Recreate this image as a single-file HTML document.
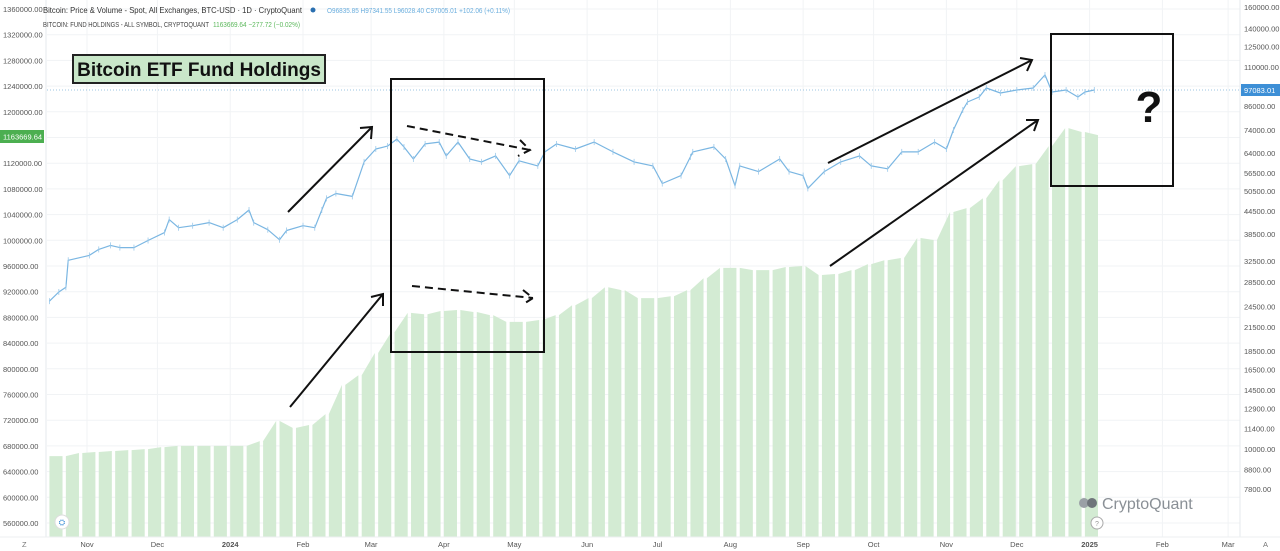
<!DOCTYPE html>
<html><head><meta charset="utf-8"><style>
html,body{margin:0;padding:0;background:#fff;}
svg{display:block;font-family:"Liberation Sans",sans-serif;}
</style></head><body>
<svg id="chart" width="1280" height="551" viewBox="0 0 1280 551">
<rect x="0" y="0" width="1280" height="551" fill="#fff"/>
<g id="grid"></g>
<g id="holdings"></g>
<line x1="47" y1="90" x2="1240" y2="90" stroke="#7fb3d8" stroke-width="0.8" stroke-dasharray="1,2"/>
<g id="price"></g>
<line x1="46" y1="0" x2="46" y2="537" stroke="#e6e9ec"/>
<line x1="1240" y1="0" x2="1240" y2="537" stroke="#e6e9ec"/>
<g id="leftAxis"></g>
<g id="rightAxis"></g>
<g id="xAxis"></g>
<g>
<text x="43" y="13" font-size="8.5" fill="#333" textLength="259" lengthAdjust="spacingAndGlyphs">Bitcoin: Price &amp; Volume - Spot, All Exchanges, BTC-USD · 1D · CryptoQuant</text>
<circle cx="313" cy="10" r="2.5" fill="#2a6fb0"/>
<text x="327" y="13" font-size="7.5" fill="#6aaede" textLength="183" lengthAdjust="spacingAndGlyphs">O96835.85 H97341.55 L96028.40 C97005.01 +102.06 (+0.11%)</text>
<text x="43" y="27" font-size="7" fill="#444" textLength="166" lengthAdjust="spacingAndGlyphs">BITCOIN: FUND HOLDINGS - ALL SYMBOL, CRYPTOQUANT</text>
<text x="213" y="27" font-size="7" fill="#5cb85c" textLength="87" lengthAdjust="spacingAndGlyphs">1163669.64 −277.72 (−0.02%)</text>
</g>
<g>
<rect x="73" y="55" width="252" height="28" fill="#c9e7c9" stroke="#222" stroke-width="2"/>
<text x="199" y="76" font-size="19" font-weight="bold" fill="#111" text-anchor="middle">Bitcoin ETF Fund Holdings</text>
<rect x="391" y="79" width="153" height="273" fill="none" stroke="#111" stroke-width="2"/>
<rect x="1051" y="34" width="122" height="152" fill="none" stroke="#111" stroke-width="2"/>
<text x="1149" y="122" font-size="44" font-weight="bold" fill="#111" text-anchor="middle">?</text>
<g stroke="#111" stroke-width="2" fill="none">
<path d="M288 212 L372 127 M360 128 L372 127 L371 139"/>
<path d="M290 407 L383 294 M371 297 L383 294 L383 306"/>
<path d="M407 126 L530 150 M520 140 L530 150 L518 156" stroke-dasharray="8,5"/>
<path d="M412 286 L533 298 M523 290 L533 298 L522 305" stroke-dasharray="8,5"/>
<path d="M828 163 L1032 60 M1020 58 L1032 60 L1027 71"/>
<path d="M830 266 L1038 120 M1026 120 L1038 120 L1034 131"/>
</g>
</g>
<rect x="0" y="130" width="44" height="13" fill="#4caf50"/>
<text x="3" y="139.5" font-size="7.5" fill="#fff">1163669.64</text>
<rect x="1241" y="84" width="39" height="12" fill="#3d8fd6"/>
<text x="1244" y="93" font-size="7.5" fill="#fff">97083.01</text>
<g>
<circle cx="1084" cy="503" r="5" fill="#9aa0a6"/><circle cx="1092" cy="503" r="5" fill="#6f757b"/>
<text x="1102" y="509" font-size="16" fill="#8a9096">CryptoQuant</text>
</g>
<circle cx="1097" cy="523" r="6" fill="#fff" stroke="#aaa"/>
<text x="1097" y="526" font-size="7" fill="#999" text-anchor="middle">?</text>
<circle cx="62" cy="522" r="7" fill="#fff" stroke="#ddd"/>
<text x="62" y="525" font-size="8" fill="#3d8fd6" text-anchor="middle">⛭</text>
</svg>
<script>
const holdWeeks = ["2023-10-16","2023-10-23","2023-10-30","2023-11-06","2023-11-13","2023-11-20","2023-11-27","2023-12-04","2023-12-11","2023-12-18","2023-12-25","2024-01-01","2024-01-08","2024-01-15","2024-01-22","2024-01-29","2024-02-05","2024-02-12","2024-02-19","2024-02-26","2024-03-04","2024-03-11","2024-03-18","2024-03-25","2024-04-01","2024-04-08","2024-04-15","2024-04-22","2024-04-29","2024-05-06","2024-05-13","2024-05-20","2024-05-27","2024-06-03","2024-06-10","2024-06-17","2024-06-24","2024-07-01","2024-07-08","2024-07-15","2024-07-22","2024-07-29","2024-08-05","2024-08-12","2024-08-19","2024-08-26","2024-09-02","2024-09-09","2024-09-16","2024-09-23","2024-09-30","2024-10-07","2024-10-14","2024-10-21","2024-10-28","2024-11-04","2024-11-11","2024-11-18","2024-11-25","2024-12-02","2024-12-09","2024-12-16","2024-12-23","2024-12-30"];
const holdValues = [664000,669000,670500,672000,673500,675000,678000,680000,680000,680000,680000,680000,687500,719000,708000,712500,729500,775000,790000,824500,857000,887000,885000,890000,891500,888500,883500,873000,873000,876000,883500,899000,910000,927000,922500,910000,910000,913000,922500,941000,957000,957000,953500,953500,958500,960000,946000,947500,953500,963000,969000,972500,1003500,1000500,1044000,1050000,1065500,1093500,1115500,1118500,1146500,1174500,1168500,1163669];
const priceDates = ["2023-10-16","2023-10-20","2023-10-23","2023-10-24","2023-11-02","2023-11-06","2023-11-11","2023-11-15","2023-11-21","2023-11-27","2023-12-04","2023-12-06","2023-12-10","2023-12-16","2023-12-23","2023-12-29","2024-01-04","2024-01-09","2024-01-11","2024-01-17","2024-01-22","2024-01-25","2024-02-01","2024-02-06","2024-02-09","2024-02-11","2024-02-15","2024-02-22","2024-02-27","2024-03-03","2024-03-08","2024-03-12","2024-03-15","2024-03-19","2024-03-24","2024-03-30","2024-04-02","2024-04-07","2024-04-12","2024-04-17","2024-04-23","2024-04-29","2024-05-03","2024-05-11","2024-05-14","2024-05-19","2024-05-27","2024-06-04","2024-06-12","2024-06-21","2024-06-29","2024-07-03","2024-07-11","2024-07-15","2024-07-16","2024-07-25","2024-07-30","2024-08-03","2024-08-05","2024-08-13","2024-08-22","2024-08-26","2024-09-01","2024-09-03","2024-09-10","2024-09-17","2024-09-25","2024-09-30","2024-10-07","2024-10-13","2024-10-20","2024-10-27","2024-11-01","2024-11-04","2024-11-08","2024-11-10","2024-11-15","2024-11-18","2024-11-24","2024-12-01","2024-12-08","2024-12-13","2024-12-16","2024-12-22","2024-12-27","2024-12-30","2025-01-03"];
const priceValues = [25300,26800,27600,32700,33700,35000,35900,35400,35400,37000,38900,42200,40100,40600,41400,40100,42200,44800,41400,39600,37200,39400,40600,40100,44800,48200,49700,48800,60600,65700,66900,69900,66500,61700,67800,68600,62900,68600,61700,60600,62900,55600,61000,59100,64500,67800,65700,68600,64500,60600,59100,52900,55600,62500,64500,66500,61700,52200,59100,57000,61700,57000,55600,51300,57000,60600,62900,59100,58000,64500,64500,68600,65700,74000,83900,88200,91000,96300,93300,95100,96300,104500,93900,95100,91000,93900,95100];
const leftTicks = [1360000,1320000,1280000,1240000,1200000,1160000,1120000,1080000,1040000,1000000,960000,920000,880000,840000,800000,760000,720000,680000,640000,600000,560000];
const rightTicks = [160000,140000,125000,110000,86000,74000,64000,56500,50500,44500,38500,32500,28500,24500,21500,18500,16500,14500,12900,11400,10000,8800,7800];
const monthLabels = ["Nov","Dec","2024","Feb","Mar","Apr","May","Jun","Jul","Aug","Sep","Oct","Nov","Dec","2025","Feb","Mar"];
const monthDates = ["2023-11-01","2023-12-01","2024-01-01","2024-02-01","2024-03-01","2024-04-01","2024-05-01","2024-06-01","2024-07-01","2024-08-01","2024-09-01","2024-10-01","2024-11-01","2024-12-01","2025-01-01","2025-02-01","2025-03-01"];

const NS = "http://www.w3.org/2000/svg";
const DAY = 86400000, T0 = Date.UTC(2023,10,1);
function day(s){const p=s.split("-");return (Date.UTC(+p[0],p[1]-1,+p[2])-T0)/DAY;}
function xS(s){return 87 + day(s)*2.348;}
function yL(v){return 523 - (v-560000)/40000*25.7;}
function yR(p){return 7 + (Math.log(160000)-Math.log(p))*159.5;}
function mk(tag, attrs, parent){const e=document.createElementNS(NS,tag);for(const k in attrs)e.setAttribute(k,attrs[k]);parent.appendChild(e);return e;}

const grid=document.getElementById("grid");
leftTicks.forEach(v=>{const l=mk("line",{x1:47,x2:1240,y1:yL(v),y2:yL(v),stroke:"#f1f3f5","stroke-width":1},grid);

});
monthDates.forEach(d=>{const l=mk("line",{x1:xS(d),x2:xS(d),y1:0,y2:537,stroke:"#f1f3f5","stroke-width":1},grid);

});

const hg=document.getElementById("holdings");
holdWeeks.forEach((w,i)=>{
  const x0=xS(w), x1=x0+13.1;
  const prev = i>0 ? holdValues[i-1] : holdValues[i];
  const p=mk("polygon",{points:`${x0},537 ${x0},${yL(prev)} ${x1},${yL(holdValues[i])} ${x1},537`,fill:"#d3ebd3"},hg);
  
  
});

const pg=document.getElementById("price");
const pts=priceDates.map((d,i)=>xS(d).toFixed(1)+","+yR(priceValues[i]).toFixed(1)).join(" ");
const pl=mk("polyline",{points:pts,fill:"none",stroke:"#7ab6e2","stroke-width":1.2,"stroke-linejoin":"round"},pg);


priceDates.forEach((d,i)=>{const x=xS(d),y=yR(priceValues[i]);
  const c=mk("line",{x1:x,x2:x,y1:y-3,y2:y+3,stroke:"#9cc9ea","stroke-width":0.8},pg);
  
  });

const la=document.getElementById("leftAxis");
leftTicks.forEach(v=>{const t=mk("text",{x:3,y:yL(v)+3,"font-size":7.5,fill:"#555"},la);t.textContent=v.toFixed(2);

});
const ra=document.getElementById("rightAxis");
rightTicks.forEach(v=>{const t=mk("text",{x:1244,y:yR(v)+3,"font-size":7.5,fill:"#555"},ra);t.textContent=v.toFixed(2);

});
const xa=document.getElementById("xAxis");
mk("line",{x1:0,x2:1280,y1:537,y2:537,stroke:"#eceff1"},xa);
monthLabels.forEach((m,i)=>{const t=mk("text",{x:xS(monthDates[i]),y:547,"font-size":7.5,fill:"#555","text-anchor":"middle","font-weight":(m.length===4?"bold":"normal")},xa);t.textContent=m;

});
const z=mk("text",{x:22,y:547,"font-size":7.5,fill:"#777"},xa);z.textContent="Z";


const a=mk("text",{x:1263,y:547,"font-size":7.5,fill:"#777"},xa);a.textContent="A";


</script>
</body></html>
